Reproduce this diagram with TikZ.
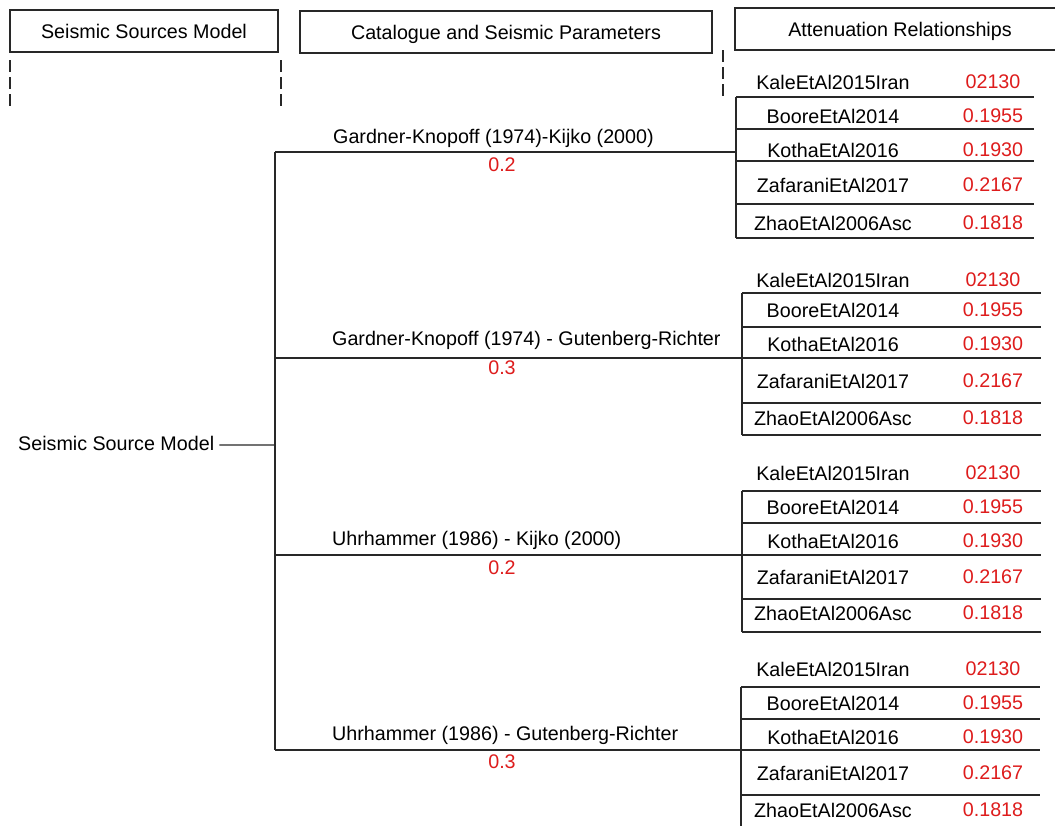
\documentclass[tikz,border=0pt]{standalone}
\usepackage{fontspec}
\setmainfont{Liberation Sans}
\definecolor{numred}{RGB}{222,28,28}
\definecolor{linegray}{RGB}{40,40,40}
\newcommand\gmname[1]{\ifcase#1\or KaleEtAl2015Iran\or BooreEtAl2014\or KothaEtAl2016\or ZafaraniEtAl2017\or ZhaoEtAl2006Asc\fi}
\newcommand\gmvalue[1]{\ifcase#1\or 02130\or 0.1955\or 0.1930\or 0.2167\or 0.1818\fi}
% #1 id, #2 x of vertical, #3 right end, #4 vertical top, #5 vertical bottom, #6 line ys, #7 row ys
\newcommand\attgroup[7]{%
  \coordinate (#1vt) at (#2,#4);
  \coordinate (#1vb) at (#2,#5);
  \draw[conn] (#1vt) -- (#1vb);
  \foreach \ly [count=\i] in {#6} {
    \coordinate (#1la\i) at (#2,\ly);
    \coordinate (#1lb\i) at (#3,\ly);
    \draw[conn] (#1la\i) -- (#1lb\i);
  }
  \foreach \ry [count=\i] in {#7} {
    \node[gmtext] (#1n\i) at (833,\ry) {\gmname{\i}};
    \node[gmval] (#1v\i) at (993,\ry) {\gmvalue{\i}};
  }
}
\begin{document}
\begin{tikzpicture}[x=1pt,y=-1pt, font=\fontsize{19.7}{23}\selectfont,
  hdr/.style={draw=linegray, line width=1.2pt, inner sep=0pt, minimum height=42pt, text height=14.2pt, text depth=0pt},
  lbl/.style={anchor=base west, inner sep=0pt, text=black},
  wt/.style={anchor=base, text=numred, inner sep=0pt},
  gmtext/.style={inner sep=0pt, text=black},
  gmval/.style={text=numred, inner sep=0pt},
  conn/.style={draw=linegray, line width=1.2pt},
  guide/.style={draw=linegray, line width=1.2pt, dash pattern=on 12pt off 5pt}]
\clip (0,0) rectangle (1055,825);
\fill[white] (0,0) rectangle (1055,825);

% header boxes
\node[hdr, minimum width=268pt] (h1) at (144,31) {Seismic Sources Model};
\node[hdr, minimum width=412pt] (h2) at (506,32) {Catalogue and Seismic Parameters};
\node[hdr, minimum width=330pt] (h3) at (900,29) {Attenuation Relationships};

% dashed guides
\coordinate (d1a) at (10,60);  \coordinate (d1b) at (10,108);
\coordinate (d2a) at (281,60); \coordinate (d2b) at (281,107);
\coordinate (d3a) at (723,50); \coordinate (d3b) at (723,97);
\draw[guide] (d1a) -- (d1b);
\draw[guide] (d2a) -- (d2b);
\draw[guide] (d3a) -- (d3b);

% root and trunk
\node[lbl] (root) at (18,450) {Seismic Source Model};
\coordinate (trunk) at (275,445);
\coordinate (b1) at (275,152);
\coordinate (b2) at (275,358);
\coordinate (b3) at (275,555);
\coordinate (b4) at (275,750);
\draw[conn] ([xshift=5pt,yshift=-2pt]root.east) -- (trunk);
\draw[conn] (b1) -- (b4);

% branches
\coordinate (e1) at (736,152);
\coordinate (e2) at (742,358);
\coordinate (e3) at (742,555);
\coordinate (e4) at (741,750);
\draw[conn] (b1) -- (e1);
\draw[conn] (b2) -- (e2);
\draw[conn] (b3) -- (e3);
\draw[conn] (b4) -- (e4);

\node[lbl] (l1) at (333,143) {Gardner-Knopoff (1974)-Kijko (2000)};
\node[wt] (w1) at (502,171) {0.2};
\node[lbl] (l2) at (332,345) {Gardner-Knopoff (1974) - Gutenberg-Richter};
\node[wt] (w2) at (502,374) {0.3};
\node[lbl] (l3) at (332,545) {Uhrhammer (1986) - Kijko (2000)};
\node[wt] (w3) at (502,574) {0.2};
\node[lbl] (l4) at (332,740) {Uhrhammer (1986) - Gutenberg-Richter};
\node[wt] (w4) at (502,768) {0.3};

% attenuation groups
\attgroup{ga}{736}{1034}{97}{238}{97,129,161,204,238}{82,116,150,185,223}
\attgroup{gb}{742}{1041}{293}{435}{293,327,358,403,435}{280,310,344,381,418}
\attgroup{gc}{742}{1041}{491}{632}{491,523,555,599,632}{473,507,541,577,613}
\attgroup{gd}{741}{1040}{687}{830}{687,719,750,795}{669,703,737,773,810}
\end{tikzpicture}
\end{document}
